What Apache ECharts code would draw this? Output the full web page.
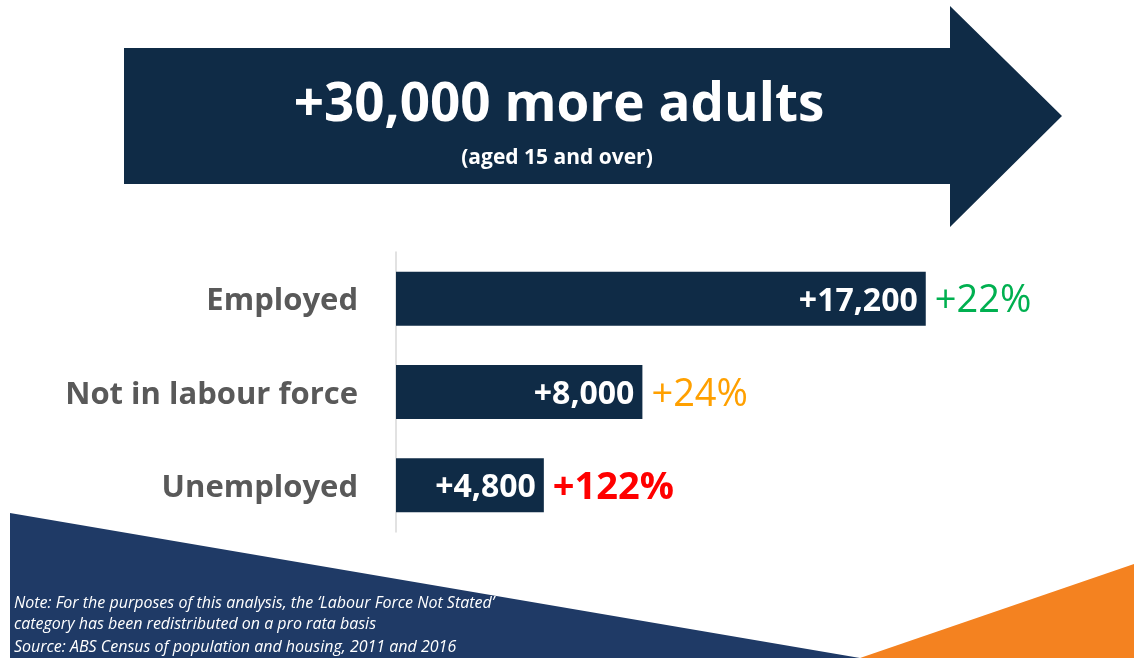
<!DOCTYPE html>
<html>
<head>
<meta charset="utf-8">
<script src="https://cdn.jsdelivr.net/npm/echarts@6/dist/echarts.min.js"></script>
<style>
html,body{margin:0;padding:0;background:#fff;}
#chart{width:1134px;height:658px;}
</style>
</head>
<body>
<div id="chart"></div>
<script>
const categories = ['Employed', 'Not in labour force', 'Unemployed'];
const changeValues = [17200, 8000, 4800];
const valueLabels = ['+17,200', '+8,000', '+4,800'];
const pctLabels = ['+22%', '+24%', '+122%'];
const pctColors = ['#00B050', '#FFA000', '#FF0000'];
const pctWeights = ['normal', 'normal', 'bold'];
const headline = '+30,000 more adults';
const subHeadline = '(aged 15 and over)';
const footnotes = [
  'Note: For the purposes of this analysis, the \u2018Labour Force Not Stated\u2019',
  'category has been redistributed on a pro rata basis',
  'Source: ABS Census of population and housing, 2011 and 2016'
];

const FONT = '"Open Sans", Lato, sans-serif';
const NAVY = '#0F2B46';

const chart = echarts.init(document.getElementById('chart'), null, {renderer: 'canvas'});

const option = {
  backgroundColor: '#ffffff',
  animation: false,
  grid: {left: 396, right: 122, top: 252, bottom: 126, containLabel: false},
  xAxis: {
    type: 'value', min: 0, max: 20000,
    show: false
  },
  yAxis: {
    type: 'category',
    data: categories,
    inverse: true,
    axisLine: {show: true, lineStyle: {color: '#D9D9D9', width: 1.5}},
    axisTick: {show: false},
    axisLabel: {
      margin: 38,
      formatter: v => '{c|' + v + '}',
      rich: {
        c: {
          color: '#595959',
          fontFamily: FONT,
          fontWeight: 'bold',
          fontSize: 31,
          padding: [6, 0, 0, 0]
        }
      }
    }
  },
  series: [
    {
      type: 'bar',
      data: changeValues,
      barWidth: 54,
      z: 3,
      itemStyle: {color: NAVY},
      label: {
        show: true,
        position: 'insideRight',
        distance: 8,
        offset: [0, 3],
        formatter: p => valueLabels[p.dataIndex],
        color: '#ffffff',
        fontFamily: FONT,
        fontWeight: 'bold',
        fontSize: 32
      }
    },
    {
      type: 'bar',
      data: changeValues.map((v, i) => ({
        value: v,
        label: {color: pctColors[i], fontWeight: pctWeights[i]}
      })),
      barWidth: 54,
      barGap: '-100%',
      z: 4,
      itemStyle: {color: 'rgba(0,0,0,0)'},
      label: {
        show: true,
        position: 'right',
        distance: 9,
        offset: [0, 3],
        formatter: p => pctLabels[p.dataIndex],
        fontFamily: FONT,
        fontSize: 38
      }
    }
  ],
  graphic: [
    {
      type: 'polygon', z: -10, silent: true,
      shape: {points: [[10, 513], [860, 658], [10, 658]]},
      style: {fill: '#1F3A66'}
    },
    {
      type: 'polygon', z: -10, silent: true,
      shape: {points: [[860, 658], [1134, 564], [1134, 658]]},
      style: {fill: '#F48220'}
    },
    {
      type: 'polygon', z: -5, silent: true,
      shape: {points: [[124, 48], [950, 48], [950, 6], [1062, 116], [950, 227], [950, 184], [124, 184]]},
      style: {fill: NAVY}
    },
    {
      type: 'text', z: 10, silent: true,
      x: 559, y: 106,
      style: {
        text: headline, fill: '#ffffff',
        font: 'bold 53px ' + FONT,
        textAlign: 'center', textVerticalAlign: 'middle'
      }
    },
    {
      type: 'text', z: 10, silent: true,
      x: 557, y: 158,
      style: {
        text: subHeadline, fill: '#ffffff',
        font: 'bold 21px ' + FONT,
        textAlign: 'center', textVerticalAlign: 'middle'
      }
    }
  ].concat(footnotes.map((t, i) => ({
    type: 'text', z: 10, silent: true,
    x: 14, y: [603, 624, 647][i],
    style: {
      text: t, fill: '#ffffff',
      font: 'italic 16px ' + FONT,
      textAlign: 'left', textVerticalAlign: 'middle'
    }
  })))
};

chart.setOption(option);
</script>
</body>
</html>
